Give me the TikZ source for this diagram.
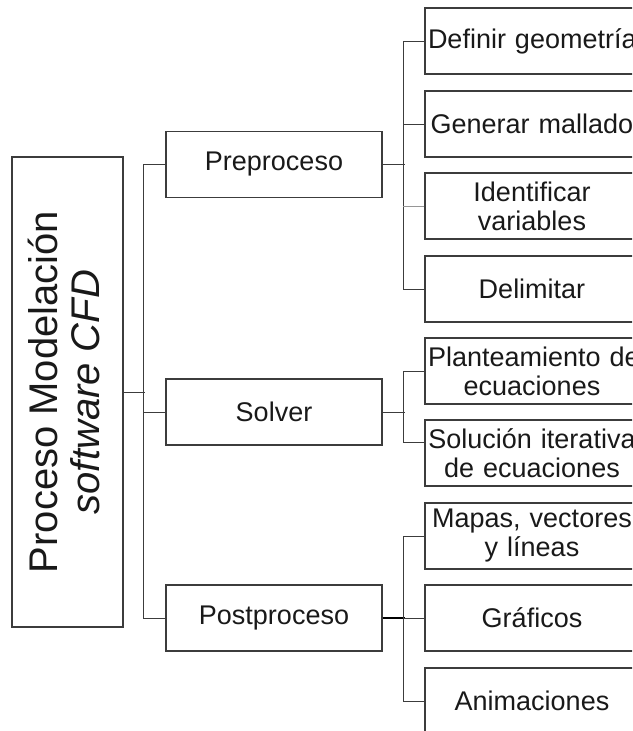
\documentclass[tikz,border=0pt]{standalone}
\usepackage{fontspec}
\setmainfont{Liberation Sans}
\usepackage{xcolor}
\usepackage{tikz}
\usetikzlibrary{positioning}
\usetikzlibrary{calc}
\definecolor[named]{linegray}{RGB}{60,60,60}
\definecolor[named]{softgray}{RGB}{150,150,150}

\begin{document}
\begin{tikzpicture}[x=1pt,y=-1pt]
   \useasboundingbox (0,0) rectangle (632,731);
   \clip (0,0) rectangle (632,731);
   \tikzstyle{every node}=[draw=linegray,line width=1.2pt,shape=rectangle,inner sep=0pt,text=black!90,align=center];
   \node[rotate=90,minimum width=470pt,minimum height=111pt,text depth=7pt,font=\fontsize{40}{42}\selectfont] (proc) at (67.5,392) {Proceso Modelación\\\textit{software CFD}};
   \tikzstyle{every node}=[draw=linegray,line width=1.2pt,shape=rectangle,inner sep=0pt,text=black!90,align=center,minimum height=66pt,font=\fontsize{27}{29}\selectfont];
   \foreach \n/\y/\txt in {pre/164.5/Preproceso,sol/412/Solver,post/618/Postproceso}
      \node[minimum width=216pt] (\n) at (274,\y) {\txt};
   \foreach \n/\y/\txt in {1/41/\mbox{Definir geometría},2/124/\mbox{Generar mallado},3/206/{Identificar\\variables},4/289/Delimitar,5/371/{\mbox{Planteamiento de}\\ecuaciones},6/453/{\mbox{Solución iterativa}\\\mbox{de ecuaciones}},7/536/{\mbox{Mapas, vectores}\\\mbox{y líneas}},8/618/Gráficos,9/701/Animaciones}
      \node[text width=208pt,inner xsep=3pt] (r\n) at (532,\y) {\txt};
   \tikzstyle{every path}=[draw=linegray,line width=1pt];
   \draw (proc.south) -- ++(21,0);
   \draw (pre.west) -- ++(-22,0) |- (post.west);
   \draw (sol.west) -- ++(-22,0);
   \draw (pre.east) -- ++(22,0);
   \draw (r1.west) -- ++(-21,0) |- (r4.west);
   \draw (r2.west) -- ++(-21,0);
   \draw[softgray] (r3.west) -- ++(-21,0);
   \draw (sol.east) -- ++(22,0);
   \draw (r5.west) -- ++(-21,0) |- ([yshift=11pt]r6.west);
   \draw[line width=1.8pt,black] (post.east) -- ++(22,0);
   \draw (r7.west) -- ++(-21,0) |- (r9.west);
   \draw (r8.west) -- ++(-21,0);
\end{tikzpicture}
\end{document}
